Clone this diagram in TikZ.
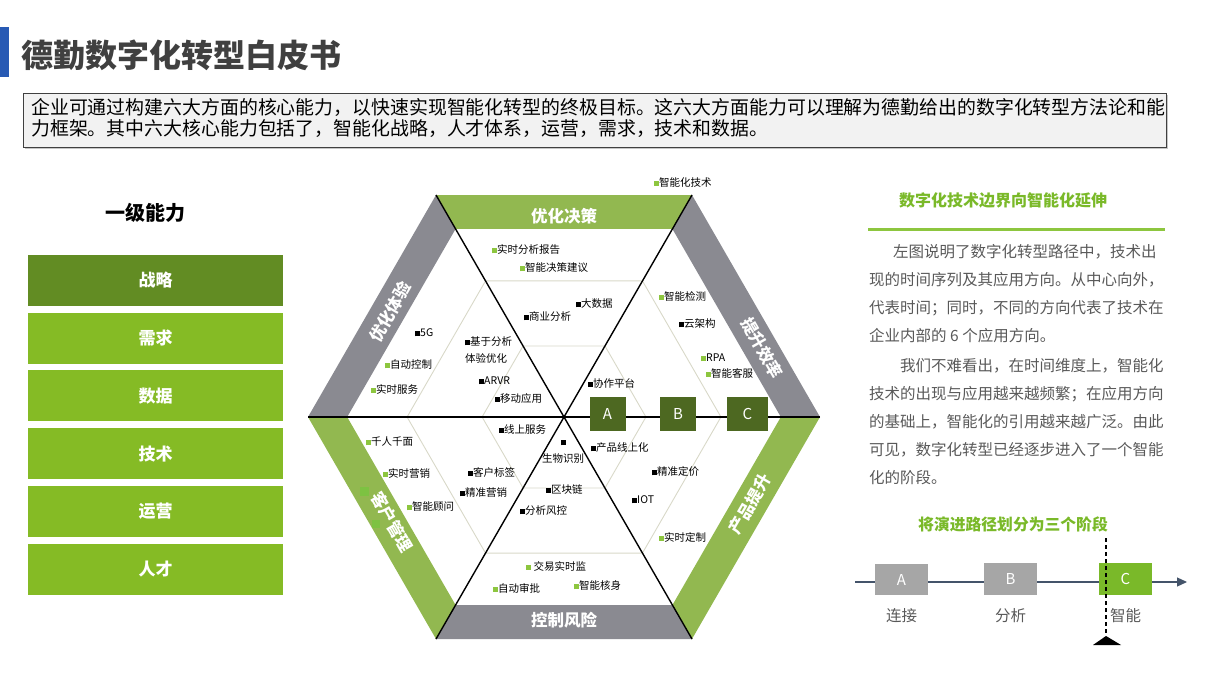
\documentclass[tikz,border=0pt]{standalone}
\usepackage{fontspec}
\setmainfont{Noto Sans CJK SC}
\usetikzlibrary{calc, positioning, shadows, arrows.meta}

\definecolor{barblue}{RGB}{40,90,180}
\definecolor{titlegray}{RGB}{64,64,64}
\definecolor{boxgray}{RGB}{242,242,242}
\definecolor{capdark}{RGB}{98,140,35}
\definecolor{capgreen}{RGB}{133,187,37}
\definecolor{bandgreen}{RGB}{146,184,80}
\definecolor{bandgray}{RGB}{138,138,145}
\definecolor{phasegreen}{RGB}{77,104,33}
\definecolor{dotgreen}{RGB}{141,198,63}
\definecolor{sqgreen}{RGB}{125,194,66}
\definecolor{ringline}{RGB}{216,216,200}
\definecolor{headgreen}{RGB}{122,185,41}
\definecolor{textgray}{RGB}{89,89,89}
\definecolor{stagegray}{RGB}{166,166,166}
\definecolor{axisblue}{RGB}{68,84,106}

\newcommand{\gsq}{\textcolor{dotgreen}{\rule[0.5pt]{5pt}{5pt}}}
\newcommand{\ksq}{\rule[0.5pt]{5pt}{5pt}}

\tikzset{
  capbox/.style={minimum width=255pt, minimum height=51pt, inner sep=0pt, text=white,
    font=\bfseries\fontsize{17}{17}\selectfont},
  bandlabel/.style={text=white, inner sep=0pt, font=\bfseries\fontsize{16.5}{16.5}\selectfont},
  item/.style={anchor=west, inner sep=0pt, font=\fontsize{10.5}{17}\selectfont},
  ringstyle/.style={draw=ringline, line width=0.9pt},
  spoke/.style={draw=black, line width=1.4pt},
  phase/.style={fill=phasegreen, minimum width=36pt, minimum height=34pt, inner sep=0pt,
    text=white, font=\fontsize{15}{15}\selectfont},
  stagebox/.style={minimum width=53pt, minimum height=31pt, inner sep=0pt, text=white,
    font=\fontsize{15}{15}\selectfont},
  stagelabel/.style={inner sep=0pt, text=textgray, font=\fontsize{15.5}{15.5}\selectfont},
  paraline/.style={anchor=west, inner sep=0pt, text=textgray, font=\fontsize{15.5}{15.5}\selectfont},
  descline/.style={anchor=west, inner sep=0pt, text=black, font=\fontsize{18.9}{18.9}\selectfont},
}

\begin{document}
\begin{tikzpicture}[x=1pt, y=-1pt]
\useasboundingbox (0,0) rectangle (1210,680);

% title and description
\fill[barblue] (0,27) rectangle (9,77);
\node[anchor=west, inner sep=0pt, text=titlegray, font=\bfseries\fontsize{32}{32}\selectfont] (title) at (21,55) {德勤数字化转型白皮书};
\draw[fill=boxgray, draw=black!75, line width=0.8pt,
  drop shadow={shadow xshift=2pt, shadow yshift=-2pt, opacity=0.45}] (23,93) rectangle (1166,147);
\node[descline] (d1) at (31,107) {企业可通过构建六大方面的核心能力，以快速实现智能化转型的终极目标。这六大方面能力可以理解为德勤给出的数字化转型方法论和能};
\node[descline] (d2) at (31,129) {力框架。其中六大核心能力包括了，智能化战略，人才体系，运营，需求，技术和数据。};

% left column
\node[inner sep=0pt, font=\bfseries\fontsize{20}{20}\selectfont] (lvl) at (145,213) {一级能力};
\foreach \t/\c [count=\i from 0] in {战略/capdark, 需求/capgreen, 数据/capgreen, 技术/capgreen, 运营/capgreen, 人才/capgreen}
  \node[capbox, fill=\c] (cap\i) at (155.5,280.5+57.7*\i) {\t};

% hexagon
\coordinate (O) at (564,417);
\coordinate (V1) at (820,417);
\coordinate (V2) at (692,195);
\coordinate (V3) at (436,195);
\coordinate (V4) at (308,417);
\coordinate (V5) at (436,639);
\coordinate (V6) at (692,639);

\foreach \s in {0.32, 0.613}
  \draw[ringstyle] ($(O)!\s!(V1)$) -- ($(O)!\s!(V2)$) -- ($(O)!\s!(V3)$) -- ($(O)!\s!(V4)$)
    -- ($(O)!\s!(V5)$) -- ($(O)!\s!(V6)$) -- cycle;

\foreach \a/\b/\c in {V2/V3/bandgreen, V1/V2/bandgray, V6/V1/bandgreen, V5/V6/bandgray, V4/V5/bandgreen, V3/V4/bandgray}
  \fill[\c] (\a) -- (\b) -- ($(O)!0.847!(\b)$) -- ($(O)!0.847!(\a)$) -- cycle;

\fill[sqgreen] (360,487) rectangle (369,496);
\fill[sqgreen] (372,520) rectangle (380,528);

\draw[spoke] (V4) -- (V1);
\draw[spoke] (V3) -- (V6);
\draw[spoke] (V2) -- (V5);

\node[bandlabel] (b1) at (564,216) {优化决策};
\node[bandlabel, rotate=-60] (b2) at (762,348) {提升效率};
\node[bandlabel, rotate=60] (b3) at (750,504) {产品提升};
\node[bandlabel] (b4) at (564,620) {控制风险};
\node[bandlabel, rotate=-60] (b5) at (392,522) {客户管理};
\node[bandlabel, rotate=60] (b6) at (390,312) {优化体验};

\node[phase] (pA) at (607.5,413.5) {A};
\node[phase] (pB) at (678,414) {B};
\node[phase, minimum width=41pt] (pC) at (747.5,413.5) {C};

% items
\node[item] (legend) at (654,182) {\gsq 智能化技术};
\node[item] (i1) at (492,250) {\gsq 实时分析报告};
\node[item] (i2) at (520,268) {\gsq 智能决策建议};
\node[item] (i3) at (576,304) {\ksq 大数据};
\node[item] (i4) at (524,317) {\ksq 商业分析};
\node[item] (i5) at (415,333) {\ksq 5G};
\node[item, align=left] (i6) at (465,350.5) {\ksq 基于分析\\体验优化};
\node[item] (i7) at (385,365) {\gsq 自动控制};
\node[item] (i8) at (479,381) {\ksq ARVR};
\node[item] (i9) at (371,389) {\gsq 实时服务};
\node[item] (i10) at (495,398) {\ksq 移动应用};
\node[item] (i11) at (588,383) {\ksq 协作平台};
\node[item] (i12) at (659,296) {\gsq 智能检测};
\node[item] (i13) at (679,324) {\ksq 云架构};
\node[item] (i14) at (701,358) {\gsq RPA};
\node[item] (i15) at (706,373) {\gsq 智能客服};
\node[item] (i16) at (499,429) {\ksq 线上服务};
\node[item] (i17) at (366,442) {\gsq 千人千面};
\node[item] (i18) at (383,473) {\gsq 实时营销};
\node[item] (i19) at (468,472) {\ksq 客户标签};
\node[item] (i20) at (460,493) {\ksq 精准营销};
\node[item] (i21) at (407,507) {\gsq 智能顾问};
\node[item, anchor=center, align=center] (i22) at (563,452) {\ksq\\生物识别};
\node[item] (i23) at (546,489) {\ksq 区块链};
\node[item] (i24) at (520,511) {\ksq 分析风控};
\node[item] (i25) at (526,566) {\gsq\ 交易实时监};
\node[item] (i26) at (493,588) {\gsq 自动审批};
\node[item] (i27) at (574,586) {\gsq 智能核身};
\node[item] (i28) at (591,448) {\ksq 产品线上化};
\node[item] (i29) at (652,472) {\ksq 精准定价};
\node[item] (i30) at (632,500) {\ksq IOT};
\node[item] (i31) at (659,537) {\gsq 实时定制};

% right column
\node[inner sep=0pt, text=headgreen, font=\bfseries\fontsize{16}{16}\selectfont] (head) at (1003,200) {数字化技术边界向智能化延伸};
\draw[draw=dotgreen, line width=3pt] (868,229) -- (1165,229);
\node[paraline] (p1) at (893,252) {左图说明了数字化转型路径中，技术出};
\node[paraline] (p2) at (869,280) {现的时间序列及其应用方向。从中心向外，};
\node[paraline] (p3) at (869,308) {代表时间；同时，不同的方向代表了技术在};
\node[paraline] (p4) at (869,336) {企业内部的 6 个应用方向。};
\node[paraline] (p5) at (900,366) {我们不难看出，在时间维度上，智能化};
\node[paraline] (p6) at (869,394) {技术的出现与应用越来越频繁；在应用方向};
\node[paraline] (p7) at (869,422) {的基础上，智能化的引用越来越广泛。由此};
\node[paraline] (p8) at (869,450) {可见，数字化转型已经逐步进入了一个智能};
\node[paraline] (p9) at (869,478) {化的阶段。};

\node[inner sep=0pt, text=headgreen, font=\bfseries\fontsize{15.8}{15.8}\selectfont] (stagehead) at (1013,524) {将演进路径划分为三个阶段};
\coordinate (t0) at (855,582);
\coordinate (t1) at (1187,582);
\draw[axisblue, line width=1.2pt, -{Triangle[length=10pt, width=9pt]}] (t0) -- (t1);
\node[stagebox, fill=stagegray] (sA) at (901.5,579.5) {A};
\node[stagebox, fill=stagegray, minimum height=32pt] (sB) at (1010.5,579) {B};
\node[stagebox, fill=headgreen, minimum height=32pt] (sC) at (1125.5,579) {C};
\node[stagelabel, below=13pt of sA] (lA) {连接};
\node[stagelabel, below=13pt of sB] (lB) {分析};
\node[stagelabel, below=13pt of sC] (lC) {智能};
\coordinate (m0) at (1106,538);
\coordinate (m1) at (1106,636);
\draw[black, line width=1.2pt, dash pattern=on 4pt off 3pt] (m0) -- (m1);
\fill[black] (1093,645) -- (m1) -- (1121,645) -- cycle;
\end{tikzpicture}
\end{document}
